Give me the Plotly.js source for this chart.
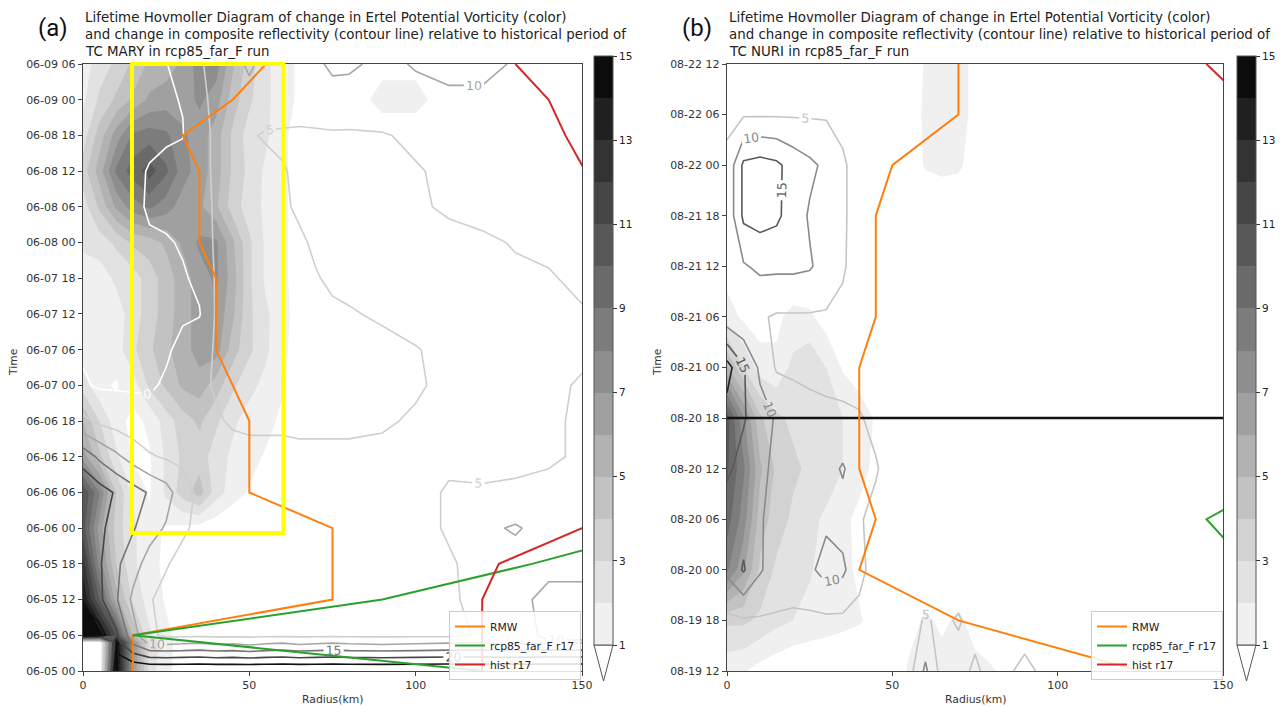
<!DOCTYPE html>
<html><head><meta charset="utf-8">
<script src="https://cdn.plot.ly/plotly-3.0.1.min.js"></script>
<style>html,body{margin:0;padding:0;background:#fff}</style>
</head><body><div id="chart" style="width:1286px;height:707px"></div>
<script>
// ---------------- DATA ----------------
const radiusKm = [0,5,10,15,20,25,30,35,40,45,50,55,60,65,70,75,80,90,100,110,120,130,140,150];
const hoursA = [0,4.8,6,12,18,24,30,36,42,48,54,60,66,72,78,84,90,96,102];
const hoursB = [0,6,12,18,24,30,36,42,48,54,60,66,72];
const tickHoursA = [0,6,12,18,24,30,36,42,48,54,60,66,72,78,84,90,96,102];
const tickLabelsA = ['06-05 00','06-05 06','06-05 12','06-05 18','06-06 00','06-06 06','06-06 12','06-06 18','06-07 00','06-07 06','06-07 12','06-07 18','06-08 00','06-08 06','06-08 12','06-08 18','06-09 00','06-09 06'];
const tickHoursB = [0,6,12,18,24,30,36,42,48,54,60,66,72];
const tickLabelsB = ['08-19 12','08-19 18','08-20 00','08-20 06','08-20 12','08-20 18','08-21 00','08-21 06','08-21 12','08-21 18','08-22 00','08-22 06','08-22 12'];
const radiusTicks = [0,50,100,150];
const pvTicks = [1,3,5,7,9,11,13,15];

// change in Ertel PV (shading), panel a
const pvA = [
 [0,0,14.8,7,2.5,1.2,0.6,0.3,0,0,0,0,0,0,0,0,0,0,0,0,0,0,0,0],
 [0,0,14.8,7.5,2.8,1.3,0.6,0.3,0,0,0,0,0,0,0,0,0,0,0,0,0,0,0,0],
 [14.8,14.8,11,5,2.2,1.2,0.6,0.3,0,0,0,0,0,0,0,0,0,0,0,0,0,0,0,0],
 [14,10,5.5,2.8,1.5,0.9,0.5,0.2,0,0,0,0,0,0,0,0,0,0,0,0,0,0,0,0],
 [12.5,7.5,4,2.2,1.3,0.8,0.5,0.2,0,0,0,0,0,0,0,0,0,0,0,0,0,0,0,0],
 [10.5,6.5,3.5,2.2,1.3,0.9,0.8,0.6,0.3,0,0,0,0,0,0,0,0,0,0,0,0,0,0,0],
 [11,8,4,1.8,0.9,2.2,3.5,4.5,2.5,1.5,0.9,0.6,0.3,0,0,0,0,0,0,0,0,0,0,0],
 [6.5,4.2,2.2,0.9,0.9,2.2,3.2,3.5,2.5,1.8,1.3,0.9,0.6,0.3,0,0,0,0,0,0,0,0,0,0],
 [5,3,1.4,0.7,1.2,2.5,3.5,4.2,3.2,2.2,1.6,1.3,0.8,0.4,0,0,0,0,0,0,0,0,0,0],
 [2.5,1.2,0.9,1.5,3.2,4.2,5.2,5.5,4.5,3.2,2.3,1.7,1.1,0.5,0.2,0,0,0,0,0,0,0,0,0],
 [1.2,1.2,1.5,2.8,3.8,4.8,5.5,6.5,6.5,4.5,3.2,2.2,1.2,0.6,0.2,0,0,0,0,0,0,0,0,0],
 [1.1,1.2,1.5,2.5,3.5,4.5,5.5,6.5,6.8,5.2,3.2,2.2,1.3,0.6,0.2,0,0,0,0,0,0,0,0,0],
 [1.5,1.5,2.2,2.5,3.5,4.5,5.5,6.5,7.2,5.5,3.2,1.8,1.2,0.6,0.2,0,0,0,0,0,0,0,0,0],
 [2.2,2.5,3.2,4.2,4.5,5.2,6.2,7.2,7.2,5.2,3.2,1.8,1.2,0.6,0.2,0,0,0,0,0,0,0,0,0],
 [2.5,4.2,6.2,7.5,8.2,7.5,6.5,6.2,5.2,3.5,2.5,1.8,1.2,0.6,0.2,0,0,0,0,0,0,0,0,0],
 [3.5,5.5,8.2,9.5,10.5,9.2,7.5,6.5,5.5,3.8,2.7,1.8,1.2,0.6,0.2,0,0,0,0,0,0,0,0,0],
 [2.5,4.5,6.5,8.2,8.5,8.2,7.2,6.5,5.5,3.8,2.5,2.2,1.2,0.6,0.2,0,0,0,0,0,0,0,0,0],
 [1.8,3.2,4.2,5.2,6.2,6.5,6.5,7.2,6.5,4.5,3.2,2.2,1.5,0.8,0.3,0,0,1.6,1.6,0,0,0,0,0],
 [1.5,2.5,3.2,4.2,5.2,5.5,6.2,7.5,7.5,5.2,3.5,2.2,1.5,0.8,0.3,0,0,0.5,0.5,0,0,0,0,0]
];
// change in composite reflectivity (contour lines), panel a
const dbzA = [
 [-1,-1,30,30,30,30,30,30,30,30,30,30,30,30,30,30,30,30,30,30,30,30,30,30],
 [-1,-1,22,14,9,8.5,9,9.5,8.5,9,8,9,9.5,8.5,9,9.5,9,8.5,9,9.5,9.5,9,9.5,9.5],
 [30,27,21,12,6,4,4,4,4,4,4,4,4,4,4,4,4,4,4,4,5.5,8,11,11],
 [24,21,15.5,9,5.5,3,2,2,2,2,2,2,2,2,2.5,3,3,3,3.5,4,7,9,11,11],
 [22,20.5,16,12,8,5.5,3,2,1.5,1.5,1.5,1.5,1.5,1.5,2,2.5,3,3,3.5,4.5,6.5,8,9,9],
 [23,21,18,15.5,12,9.5,6,3.5,2.5,2,2,2,2,2.5,3,3,3,3,3.5,5.5,9,10.5,8,8],
 [24,22,19.5,17,14.5,12,7,4,3,2.5,2,2,2,2.5,2.5,3,3,3,3.5,5.5,5.5,6,6,6],
 [18,14,11,8,5.5,4.5,4,3.5,3.5,3.5,3.5,3.5,3.5,4,4,4,4,4,4,4,3.5,3.5,4.5,5.5],
 [6,4,3,2,1.5,2,3,4,4.5,5.5,6,6,6,6,6,6,6,5.5,4.5,3.5,3,3,4,6],
 [0.5,-0.5,-0.5,-0.5,-0.5,0.5,2,4,5.5,6.5,6.5,6.5,6.5,6.5,6.5,6.5,6.5,6,5.5,4,3,3,4,5.5],
 [-0.5,-0.5,-0.5,-0.5,-1,-0.5,1,3,5.5,6.5,6.5,6.5,6.5,6.5,6.5,6.5,6.5,6,5.2,4,3,3,3.5,4],
 [-0.5,-0.5,-0.5,-1,-1,-1,-0.5,-0.3,5.5,6.5,6.5,6.5,6.5,6,5.5,5.5,5.3,4.5,3.5,3,3,3.5,4,4.8],
 [-0.5,-0.5,-1,-1,-1,-0.5,-0.5,1,5.5,6.5,7,6.5,6,5.5,5.2,4.5,4,3.5,3.5,3.5,4,4.5,4.8,5.5],
 [-0.5,-1,-1,-0.5,-0.5,-0.5,0.5,3,5.5,6.5,7,6.5,6,5.5,4.5,3.5,3,3,3.5,4,4.5,5.2,5.5,6.5],
 [-0.5,-1,-1,-1,0.5,1.5,2,3.5,5.5,6.5,7,7,5.5,4.5,4,3.5,3,3,4.5,5.5,6,6,6,5.5],
 [-1,-1,-1.5,-1,0.3,1,2,4,5.5,6.5,7,6.5,5.2,4.5,4,3.5,3.5,3.5,4.8,5.5,6,6.5,6.5,6],
 [-1,-1.5,-1.5,-1.5,-1,-0.5,-0.2,4,5.5,6.5,5.5,4.5,4.5,4.5,4.5,4.5,4.5,4.8,5.5,6,6.5,7,7,6.5],
 [-1,-1.5,-1.5,-1.5,-1,-0.5,0.2,4,6,8,9,8,7,6.5,7,8,7.5,7,8,9,9,8.5,7.5,7],
 [-1,-1.5,-1.5,-1,-1,-0.2,2.5,4.5,6.5,9,10.5,9,8,8,9,11,11,8.5,10.5,11.5,11.5,9.5,7,6.5]
];
// change in Ertel PV (shading), panel b
const pvB = [
 [1.3,1.1,0.6,0.3,0,0,0,0,0,0,0,1.2,1.6,1.4,1.6,1.3,1.1,0.3,0,0,0,0,0,0],
 [3.2,3.2,2.8,2.3,2,1.7,1.5,1.3,1.1,0.6,0.3,0.5,1.2,0.8,1.2,0.6,0.3,0,0,0,0,0,0,0],
 [8.2,6.2,3.8,2.8,2.4,2.1,1.6,1.3,0.8,0.4,0,0,0,0,0,0,0,0,0,0,0,0,0,0],
 [9.5,7.5,4.5,3.5,2.8,2.3,1.8,1.2,0.8,0.4,0,0,0,0,0,0,0,0,0,0,0,0,0,0],
 [10.2,8.2,5.2,3.8,3.2,2.8,2.6,2,1.3,0.8,0.3,0,0,0,0,0,0,0,0,0,0,0,0,0],
 [10.5,7.2,4.2,3.2,2.8,2.8,2.6,2,1.5,0.9,0.5,0,0,0,0,0,0,0,0,0,0,0,0,0],
 [5.2,3,1.5,1.2,2.3,2.8,2,0.9,0.5,0,0,0,0,0,0,0,0,0,0,0,0,0,0,0],
 [1.5,0.8,0.5,0.8,1.3,1.2,0.5,0,0,0,0,0,0,0,0,0,0,0,0,0,0,0,0,0],
 [0.5,0,0,0,0,0,0,0,0,0,0,0,0,0,0,0,0,0,0,0,0,0,0,0],
 [0,0,0,0,0,0,0,0,0,0,0,0,0,0,0,0,0,0,0,0,0,0,0,0],
 [0,0,0,0,0,0,0,0,0,0,0,0.3,1.1,1.3,1.2,0.5,0,0,0,0,0,0,0,0],
 [0,0,0,0,0,0,0,0,0,0,0,0.4,1.2,1.4,1.3,0.8,0,0,0,0,0,0,0,0],
 [0,0,0,0,0,0,0,0,0,0,0,0.3,1.1,1.3,1.3,0.8,0,0,0,0,0,0,0,0]
];
// change in composite reflectivity (contour lines), panel b
const dbzB = [
 [3,3,3,3,3,3,3,3,3,3,3,3,11,3,3,6,3,6,3,2,2,2,2,2],
 [4,4.5,4.5,4.5,4.5,4,4,4,4,3.5,3,3,5.5,4,5.5,3,3,3,2,2,2,2,2,2],
 [11,15.5,10.5,7.5,6.5,9,12,11,6,3.5,2,2,2,2,2,2,2,2,2,2,2,2,2,2],
 [12,13,10.5,8,7,8,9,8,5.5,3.5,2,2,2,2,2,2,2,2,2,2,2,2,2,2],
 [16,13,11,9,8,7.5,8,10.5,7,5.5,2.5,2,2,2,2,2,2,2,2,2,2,2,2,2],
 [18,15.5,12,9.5,8,7,6.5,6,5.5,3.5,2,2,2,2,2,2,2,2,2,2,2,2,2,2],
 [22,15.5,9,4.5,4,3.5,3,3,2.5,2,2,2,2,2,2,2,2,2,2,2,2,2,2,2],
 [7,5.5,5.5,4.5,4.5,4.5,4.5,4,3,2,2,2,2,2,2,2,2,2,2,2,2,2,2,2],
 [5.5,9.5,11,11,11,10.5,8,5.5,3,2,2,2,2,2,2,2,2,2,2,2,2,2,2,2],
 [6,16,17,16,12.5,9.5,7.5,5.5,3.5,2,2,2,2,2,2,2,2,2,2,2,2,2,2,2],
 [6,16,17,16,13,11,9,5.5,3.5,2,2,2,2,2,2,2,2,2,2,2,2,2,2,2],
 [4,4.5,4.5,4.5,4.5,4.5,4.5,4,3,2,2,2,2,2,2,2,2,2,2,2,2,2,2,2],
 [2,2,2,2,2,2,2,2,2,2,2,2,2,2,2,2,2,2,2,2,2,2,2,2]
];
// radius of maximum wind and r17 tracks
const rmwA_h = [0,6,12,24,30,42,54,66,72,84,90,96,102];
const rmwA_r = [15,15,75,75,50,50,40,40,35,35,30,45,55];
const r17FutA_h = [0,6,12,18,24];
const r17FutA_r = [120,15,90,135,175];
const r17HistA_h = [0,6,12,18,24,30,36,42,48,54,60,66,72,78,84,90,96,102];
const r17HistA_r = [120,120,120,125,150,170,180,185,185,180,175,170,165,160,151,145,140,130];
const rmwB_h = [0,6,12,18,24,30,36,42,48,54,60,66,72];
const rmwB_r = [125,70,40,45,40,40,40,45,45,45,50,70,70];
const r17FutB_h = [6,12,18,24,30];
const r17FutB_r = [190,159,145,172,200];
const r17HistB_h = [60,66,72];
const r17HistB_r = [175,161,145];
const badRowB_h = [30];   // saturated contour row in panel b
const seriesNames = ['RMW','rcp85_far_F r17','hist r17'];

// ---------------- STYLE ----------------
const W = 1286, H = 707;
const FONT = '"DejaVu Sans", sans-serif';
const C_RMW = '#ff7f0e', C_FUT = '#2ca02c', C_HIST = '#d62728';
const pvGreys = ['#ffffff','#f0f0f0','#e2e2e2','#d2d2d2','#c2c2c2','#b2b2b2','#a0a0a0','#8e8e8e','#7c7c7c','#6a6a6a','#585858','#464646','#333333','#202020','#0c0c0c','#000000'];
const pvScale = pvGreys.map((c,i)=>[i/15,c]);           // contour fill: band k -> k/15
const pvKeyScale = [];                                     // stepped scale for the colour key (1..15)
for (let k = 1; k <= 14; k++) { pvKeyScale.push([(k-1)/14, pvGreys[k]], [k/14, pvGreys[k]]); }
const dbzScaleA = [[0,'#ffffff'],[0.2,'#cfcfcf'],[0.4,'#a6a6a6'],[0.6,'#767676'],[0.8,'#474747'],[1,'#111111']];
const dbzScaleB = [[0,'#c4c4c4'],[1/3,'#8a8a8a'],[2/3,'#595959'],[1,'#222222']];

const px = v => v / W, py = v => 1 - v / H;

function colorbar(xLeft){
  return {x: px(xLeft), xanchor:'left', xref:'paper', y: py(56), yanchor:'top', yref:'paper',
    len: (645-56)/H, lenmode:'fraction', thickness:19, thicknessmode:'pixels', xpad:0, ypad:0,
    outlinewidth:1, outlinecolor:'#555', tickmode:'array', tickvals: pvTicks, ticks:'outside', ticklen:4,
    tickcolor:'#333', tickfont:{family:FONT, size:10.5, color:'#222'}};
}
function pvKey(z, y, xa, ya, cbx){
  return {type:'heatmap', x: radiusKm, y: y, z: z, xaxis: xa, yaxis: ya, opacity:0,
    zauto:false, zmin:1, zmax:15, colorscale: pvKeyScale, showscale:true, colorbar: colorbar(cbx),
    hoverinfo:'skip', showlegend:false};
}
function pvTrace(z, y, xa, ya){
  return {type:'contour', x: radiusKm, y: y, z: z, xaxis: xa, yaxis: ya,
    autocontour:false, contours:{coloring:'fill', start:1, end:15, size:1, showlines:false},
    line:{width:0, smoothing:0}, colorscale: pvScale, showscale:false,
    hoverinfo:'skip', showlegend:false};
}
function dbzTrace(z, y, xa, ya, start, end, scale){
  return {type:'contour', x: radiusKm, y: y, z: z, xaxis: xa, yaxis: ya,
    autocontour:false, contours:{coloring:'lines', start:start, end:end, size:5, showlabels:true,
      labelfont:{family:FONT, size:12.5}},
    line:{width:1.6, smoothing:0}, colorscale: scale, showscale:false, hoverinfo:'skip', showlegend:false};
}
function lineTrace(r, h, name, color, xa, ya, legend){
  return {type:'scatter', mode:'lines', x:r, y:h, name:name, xaxis:xa, yaxis:ya, legend:legend,
    line:{color:color, width:2}, hoverinfo:'skip'};
}

const traces = [
  pvKey(pvA, hoursA, 'x', 'y', 594),
  pvTrace(pvA, hoursA, 'x', 'y'),
  dbzTrace(dbzA, hoursA, 'x', 'y', 0, 25, dbzScaleA),
  lineTrace(rmwA_r, rmwA_h, seriesNames[0], C_RMW, 'x', 'y', 'legend'),
  lineTrace(r17FutA_r, r17FutA_h, seriesNames[1], C_FUT, 'x', 'y', 'legend'),
  lineTrace(r17HistA_r, r17HistA_h, seriesNames[2], C_HIST, 'x', 'y', 'legend'),
  pvKey(pvB, hoursB, 'x2', 'y2', 1237),
  pvTrace(pvB, hoursB, 'x2', 'y2'),
  dbzTrace(dbzB, hoursB, 'x2', 'y2', 5, 20, dbzScaleB),
  {type:'scatter', mode:'lines', x:[radiusKm[0], radiusKm[radiusKm.length-1]], y:[badRowB_h[0], badRowB_h[0]],
   xaxis:'x2', yaxis:'y2', line:{color:'#111', width:2.5}, showlegend:false, hoverinfo:'skip'},
  lineTrace(rmwB_r, rmwB_h, seriesNames[0], C_RMW, 'x2', 'y2', 'legend2'),
  lineTrace(r17FutB_r, r17FutB_h, seriesNames[1], C_FUT, 'x2', 'y2', 'legend2'),
  lineTrace(r17HistB_r, r17HistB_h, seriesNames[2], C_HIST, 'x2', 'y2', 'legend2')
];

const axCommon = {showline:true, mirror:true, linecolor:'#444', linewidth:1.2, showgrid:false, zeroline:false,
  ticks:'outside', ticklen:4, tickcolor:'#444', tickfont:{family:FONT, size:11, color:'#333'}, fixedrange:true};
const yTop = py(64), yBot = py(671);
function xAxis(l, r, anchor){ return Object.assign({}, axCommon, {domain:[px(l), px(r)], range:[0,150], anchor:anchor,
  tickmode:'array', tickvals: radiusTicks}); }
function yAxis(range, tv, tt, anchor){ return Object.assign({}, axCommon, {domain:[yBot, yTop], range:range, anchor:anchor,
  tickmode:'array', tickvals: tv, ticktext: tt}); }

function legendBox(xLeft){
  return {x: px(xLeft), y: py(611), xanchor:'left', yanchor:'top', xref:'paper', yref:'paper',
    bgcolor:'rgba(255,255,255,0.85)', bordercolor:'#cccccc', borderwidth:1,
    font:{family:FONT, size:10.8, color:'#222'}, itemwidth:30, tracegroupgap:0};
}

const titleLinesA = ['Lifetime Hovmoller Diagram of change in Ertel Potential Vorticity (color)',
  'and change in composite reflectivity (contour line) relative to historical period of',
  'TC MARY in rcp85_far_F run'];
const titleLinesB = ['Lifetime Hovmoller Diagram of change in Ertel Potential Vorticity (color)',
  'and change in composite reflectivity (contour line) relative to historical period of',
  'TC NURI in rcp85_far_F run'];
const titleRowsPx = [17, 34, 51];

const ann = [
  {text:'(a)', x:px(53), y:py(28), xanchor:'center', yanchor:'middle', font:{family:'Roboto, sans-serif', size:24, color:'#111'}},
  {text:'(b)', x:px(697), y:py(28), xanchor:'center', yanchor:'middle', font:{family:'Roboto, sans-serif', size:24, color:'#111'}},
  {text:'Radius(km)', x:px(332), y:py(699), xanchor:'center', yanchor:'middle', font:{family:FONT, size:10.8, color:'#333'}},
  {text:'Radius(km)', x:px(975), y:py(699), xanchor:'center', yanchor:'middle', font:{family:FONT, size:10.8, color:'#333'}},
  {text:'Time', x:px(13), y:py(362), xanchor:'center', yanchor:'middle', textangle:-90, font:{family:FONT, size:10.8, color:'#333'}},
  {text:'Time', x:px(657), y:py(362), xanchor:'center', yanchor:'middle', textangle:-90, font:{family:FONT, size:10.8, color:'#333'}}
];
titleLinesA.forEach((t,i)=>ann.push({text:t, x:px(83), y:py(titleRowsPx[i]), xanchor:'left', yanchor:'middle', align:'left', font:{family:FONT, size:13.4, color:'#222'}}));
titleLinesB.forEach((t,i)=>ann.push({text:t, x:px(727), y:py(titleRowsPx[i]), xanchor:'left', yanchor:'middle', align:'left', font:{family:FONT, size:13.4, color:'#222'}}));
ann.forEach(a => Object.assign(a, {xref:'paper', yref:'paper', showarrow:false}));

function triangle(xl){
  const xr = xl + 19, xm = xl + 9.5;
  return {type:'path', xref:'paper', yref:'paper', layer:'above',
    path:`M ${px(xl)} ${py(645)} L ${px(xm)} ${py(681)} L ${px(xr)} ${py(645)} Z`,
    fillcolor:'#ffffff', line:{color:'#555', width:1}};
}

const layout = {
  width:W, height:H, margin:{l:0, r:0, t:0, b:0, autoexpand:false},
  paper_bgcolor:'#fff', plot_bgcolor:'#fff', hovermode:false,
  xaxis: xAxis(83, 582, 'y'), yaxis: yAxis([0,102], tickHoursA, tickLabelsA, 'x'),
  xaxis2: xAxis(727, 1223, 'y2'), yaxis2: yAxis([0,72], tickHoursB, tickLabelsB, 'x2'),
  legend: legendBox(449), legend2: legendBox(1091),
  annotations: ann,
  shapes: [
    {type:'rect', xref:'paper', yref:'paper', layer:'above', x0:px(132), x1:px(283.5), y0:py(533), y1:py(64),
     line:{color:'#ffff00', width:4}, fillcolor:'rgba(0,0,0,0)'},
    triangle(594), triangle(1237)
  ]
};

Plotly.newPlot('chart', traces, layout, {staticPlot:true, displayModeBar:false});
</script>
</body></html>
